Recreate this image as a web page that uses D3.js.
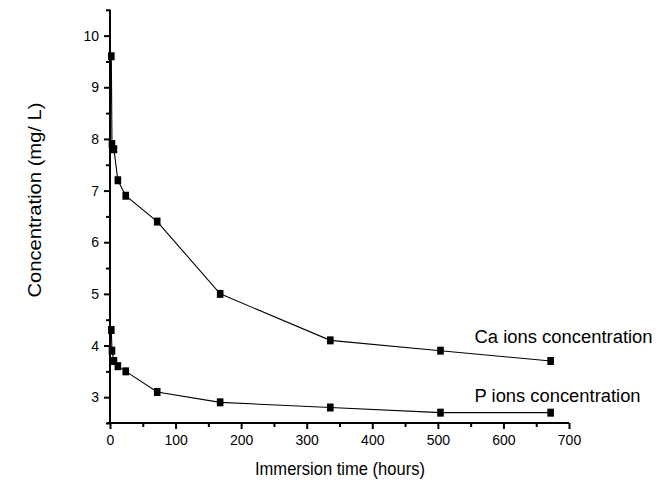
<!DOCTYPE html>
<html>
<head>
<meta charset="utf-8">
<script src="https://cdn.jsdelivr.net/npm/d3@7"></script>
<style>
  body { margin: 0; background: #fff; }
  svg { display: block; font-family: "Liberation Sans", Arial, sans-serif; }
  .axis path, .axis line { stroke: #000; stroke-width: 2; }
  .axis text { font-size: 14px; fill: #000; }
</style>
</head>
<body>
<script>
const width = 667;
const height = 486;

// data
const times = [2, 3, 6, 12, 24, 72, 168, 336, 504, 672];
const caValues = [9.6, 7.9, 7.8, 7.2, 6.9, 6.4, 5.0, 4.1, 3.9, 3.7];
const pValues = [4.3, 3.9, 3.7, 3.6, 3.5, 3.1, 2.9, 2.8, 2.7, 2.7];
const xTicks = [0, 100, 200, 300, 400, 500, 600, 700];
const yTicks = [3, 4, 5, 6, 7, 8, 9, 10];
const seriesNames = ["Ca ions concentration", "P ions concentration"];

var svg, x_scale, y_scale;

svg = d3.select("body").append("svg")
    .attr("width", width)
    .attr("height", height);

x_scale = d3.scaleLinear().domain([0, 700]).range([110, 569]);
y_scale = d3.scaleLinear().domain([2.5, 10.5]).range([423, 9.8]);

//series lines and markers
function drawSeries(values) {
    var pts = times.map((t, i) => [t, values[i]]);
    var line = d3.line()
        .x(d => x_scale(d[0]))
        .y(d => y_scale(d[1]));
    svg.append("path")
        .attr("d", line(pts))
        .attr("fill", "none")
        .attr("stroke", "#000")
        .attr("stroke-width", 1.1);
    svg.selectAll(null)
        .data(pts)
        .enter()
        .append("rect")
        .attr("x", d => x_scale(d[0]) - 3.3)
        .attr("y", d => y_scale(d[1]) - 4)
        .attr("width", 6.6)
        .attr("height", 8)
        .attr("fill", "#000");
}
drawSeries(caValues);
drawSeries(pValues);

//axes: minor ticks first, then major with labels
var xMinor = d3.range(50, 700, 100);
var yMinor = d3.range(2.5, 10.6, 1);

svg.append("g")
    .attr("class", "axis")
    .attr("transform", "translate(0," + y_scale(2.5) + ")")
    .call(d3.axisBottom(x_scale).tickValues(xMinor).tickSize(4).tickFormat(""))
    .call(g => g.select(".domain").remove());
svg.append("g")
    .attr("class", "axis")
    .attr("transform", "translate(0," + y_scale(2.5) + ")")
    .call(d3.axisBottom(x_scale).tickValues(xTicks).tickSize(6).tickSizeOuter(0).tickPadding(6))
    .call(g => g.select(".domain").attr("d", "M" + (x_scale(0) - 3) + ",0H" + x_scale(700)));

svg.append("g")
    .attr("class", "axis")
    .attr("transform", "translate(" + x_scale(0) + ",0)")
    .call(d3.axisLeft(y_scale).tickValues(yMinor).tickSize(4).tickFormat(""))
    .call(g => g.select(".domain").remove());
svg.append("g")
    .attr("class", "axis")
    .attr("transform", "translate(" + x_scale(0) + ",0)")
    .call(d3.axisLeft(y_scale).tickValues(yTicks).tickSize(6).tickSizeOuter(0).tickPadding(5))
    .call(g => g.select(".domain").attr("d", "M0," + y_scale(10.5) + "V" + (y_scale(2.5) + 1)));

//axis titles
svg.append("text")
    .attr("x", 340)
    .attr("y", 475)
    .attr("text-anchor", "middle")
    .attr("font-size", 19)
    .attr("textLength", 170)
    .attr("lengthAdjust", "spacingAndGlyphs")
    .text("Immersion time (hours)");

svg.append("text")
    .attr("transform", "translate(41,200) rotate(-90)")
    .attr("text-anchor", "middle")
    .attr("font-size", 19)
    .attr("textLength", 195)
    .attr("lengthAdjust", "spacingAndGlyphs")
    .text("Concentration (mg/ L)");

//series labels
svg.append("text")
    .attr("x", x_scale(556))
    .attr("y", y_scale(4.05))
    .attr("font-size", 18)
    .attr("textLength", 178)
    .attr("lengthAdjust", "spacingAndGlyphs")
    .text(seriesNames[0]);
svg.append("text")
    .attr("x", x_scale(556))
    .attr("y", y_scale(2.9))
    .attr("font-size", 18)
    .attr("textLength", 166)
    .attr("lengthAdjust", "spacingAndGlyphs")
    .text(seriesNames[1]);
</script>
</body>
</html>
